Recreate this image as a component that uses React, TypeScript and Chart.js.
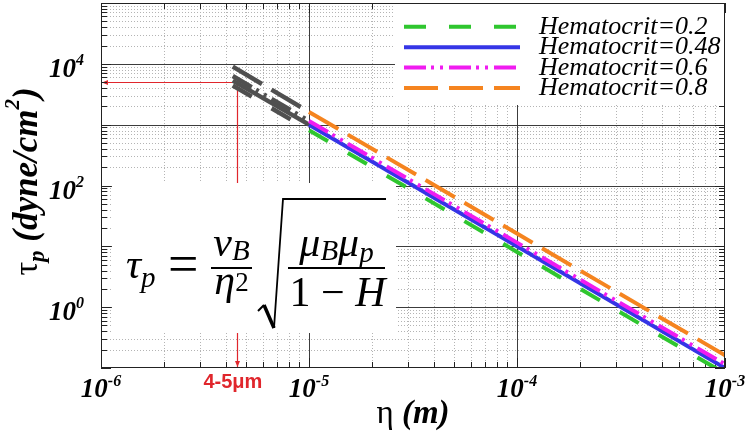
import React, { useEffect, useRef } from 'react';
import { Chart, registerables } from 'chart.js';

Chart.register(...registerables);

// ---------------- data ----------------
const etaMain = [1e-5, 1e-4, 1e-3];
const tauH02 = [810, 8.1, 0.081];
const tauH048 = [1000, 10, 0.1];
const tauH06 = [1150, 11.5, 0.115];
const tauH08 = [1620, 16.2, 0.162];

const etaSmall = [4.3e-6, 1e-5];
const tauSmallH02 = [4400, 810];
const tauSmallH048 = [5300, 1000];
const tauSmallH06 = [6300, 1150];
const tauSmallH08 = [9000, 1620];

const seriesLabels = ['Hematocrit=0.2', 'Hematocrit=0.48', 'Hematocrit=0.6', 'Hematocrit=0.8'];
const xLimits = [1e-6, 1e-3];
const yLimits = [1e-1, 1e5];
const xTickExponents = [-6, -5, -4, -3];
const yTickExponents = [0, 2, 4];
const markerEta = 4.5e-6;
const markerTau = 5000;
const markerLabel = '4-5μm';

// ---------------- styles ----------------
const COLORS = ['#2fc62f', '#3535e6', '#f01cf0', '#f5841f'];
const DASHES: number[][] = [[22, 23], [], [22, 5, 3, 6, 3, 6], [34, 11]];
const GRAY = '#505050';
const SERIF = '"Liberation Serif", "Times New Roman", serif';
const RED = '#e0262c';

type Part = { t: string; font: string; dy?: number; dx?: number };

function runWidth(ctx: CanvasRenderingContext2D, parts: Part[]) {
  let w = 0;
  for (const p of parts) {
    ctx.font = p.font;
    w += ctx.measureText(p.t).width + (p.dx || 0);
  }
  return w;
}

function drawRun(ctx: CanvasRenderingContext2D, parts: Part[], x: number, baseline: number, align: 'left' | 'center' | 'right') {
  const w = runWidth(ctx, parts);
  let cx = align === 'left' ? x : align === 'center' ? x - w / 2 : x - w;
  ctx.textAlign = 'left';
  ctx.textBaseline = 'alphabetic';
  for (const p of parts) {
    ctx.font = p.font;
    ctx.fillText(p.t, cx, baseline + (p.dy || 0));
    cx += ctx.measureText(p.t).width + (p.dx || 0);
  }
}

function logValues(min: number, max: number) {
  const out: { v: number; major: boolean }[] = [];
  const e0 = Math.round(Math.log10(min));
  const e1 = Math.round(Math.log10(max));
  for (let e = e0; e < e1; e++) {
    for (let k = 1; k < 10; k++) out.push({ v: k * Math.pow(10, e), major: k === 1 });
  }
  out.push({ v: Math.pow(10, e1), major: true });
  return out;
}

const decorPlugin = {
  id: 'decor',
  beforeDatasetsDraw(chart: any) {
    const { ctx, chartArea: a, scales } = chart;
    const xs = scales.x;
    const ys = scales.y;
    const xVals = logValues(xLimits[0], xLimits[1]);
    const yVals = logValues(yLimits[0], yLimits[1]);
    ctx.save();
    ctx.lineWidth = 1;
    // minor grid
    ctx.strokeStyle = '#b4b4b4';
    ctx.setLineDash([1, 2]);
    ctx.beginPath();
    for (const t of xVals) {
      if (t.major) continue;
      const px = Math.round(xs.getPixelForValue(t.v)) + 0.5;
      ctx.moveTo(px, a.top);
      ctx.lineTo(px, a.bottom);
    }
    for (const t of yVals) {
      if (t.major) continue;
      const py = Math.round(ys.getPixelForValue(t.v)) + 0.5;
      ctx.moveTo(a.left, py);
      ctx.lineTo(a.right, py);
    }
    ctx.stroke();
    // major grid
    ctx.setLineDash([]);
    ctx.strokeStyle = '#3c3c3c';
    ctx.beginPath();
    for (const t of xVals) {
      if (!t.major) continue;
      const px = Math.round(xs.getPixelForValue(t.v)) + 0.5;
      if (px < a.left + 2 || px > a.right - 2) continue;
      ctx.moveTo(px, a.top);
      ctx.lineTo(px, a.bottom);
    }
    for (const t of yVals) {
      if (!t.major) continue;
      const py = Math.round(ys.getPixelForValue(t.v)) + 0.5;
      if (py < a.top + 2 || py > a.bottom - 2) continue;
      ctx.moveTo(a.left, py);
      ctx.lineTo(a.right, py);
    }
    ctx.stroke();

    // red marker lines
    const mx = Math.round(xs.getPixelForValue(markerEta)) + 0.5;
    const my = Math.round(ys.getPixelForValue(markerTau)) + 0.5;
    ctx.strokeStyle = RED;
    ctx.fillStyle = RED;
    ctx.lineWidth = 1.2;
    ctx.beginPath();
    ctx.moveTo(a.left + 1, my);
    ctx.lineTo(mx, my);
    ctx.lineTo(mx, a.bottom - 1);
    ctx.stroke();
    ctx.beginPath();
    ctx.moveTo(a.left + 1, my);
    ctx.lineTo(a.left + 7, my - 2.5);
    ctx.lineTo(a.left + 7, my + 2.5);
    ctx.closePath();
    ctx.fill();
    ctx.beginPath();
    ctx.moveTo(mx, a.bottom - 1);
    ctx.lineTo(mx - 2.5, a.bottom - 7);
    ctx.lineTo(mx + 2.5, a.bottom - 7);
    ctx.closePath();
    ctx.fill();

    // axis ticks (inward)
    ctx.strokeStyle = '#222';
    ctx.lineWidth = 1;
    ctx.beginPath();
    for (const t of yVals) {
      const py = Math.round(ys.getPixelForValue(t.v)) + 0.5;
      const len = t.major ? 10 : 6;
      ctx.moveTo(a.left, py);
      ctx.lineTo(a.left + len, py);
      ctx.moveTo(a.right, py);
      ctx.lineTo(a.right - len, py);
    }
    for (const t of xVals) {
      const px = Math.round(xs.getPixelForValue(t.v)) + 0.5;
      const len = t.major ? 10 : 6;
      ctx.moveTo(px, a.bottom);
      ctx.lineTo(px, a.bottom - len);
      ctx.moveTo(px, a.top);
      ctx.lineTo(px, a.top + len);
    }
    ctx.stroke();

    // white boxes: formula and legend
    ctx.fillStyle = '#ffffff';
    ctx.fillRect(a.left + 11, a.top + 180, 284, 150);
    ctx.fillRect(a.left + 294, a.top + 1, a.right - a.left - 294 - 1, 101);
    ctx.restore();
  },
  afterDatasetsDraw(chart: any) {
    const { ctx, chartArea: a, scales } = chart;
    const xs = scales.x;
    const ys = scales.y;
    ctx.save();
    // border
    ctx.strokeStyle = '#222';
    ctx.lineWidth = 1;
    ctx.strokeRect(a.left + 0.5, a.top + 0.5, a.right - a.left - 1, a.bottom - a.top - 1);

    // legend
    const dsets = chart.data.datasets.slice(4);
    for (let i = 0; i < dsets.length; i++) {
      const ly = a.top + 23.7 + i * 20.45;
      ctx.strokeStyle = dsets[i].borderColor;
      ctx.lineWidth = 4;
      ctx.setLineDash(dsets[i].borderDash || []);
      ctx.beginPath();
      ctx.moveTo(a.left + 303, ly);
      ctx.lineTo(a.left + 419, ly);
      ctx.stroke();
      ctx.setLineDash([]);
      ctx.fillStyle = '#000';
      drawRun(ctx, [{ t: dsets[i].label, font: `italic 26px ${SERIF}` }], a.left + 438, ly + 7, 'left');
    }

    // formula
    const fx = a.left + 11;
    const fy = a.top + 180;
    ctx.fillStyle = '#000';
    const it40 = `italic 42px ${SERIF}`;
    const it28 = `italic 29px ${SERIF}`;
    const up40 = `42px ${SERIF}`;
    drawRun(ctx, [{ t: 'τ', font: it40 }, { t: 'p', font: it28, dy: 9 }], fx + 14, fy + 95, 'left');
    drawRun(ctx, [{ t: '=', font: `54px ${SERIF}` }], fx + 56, fy + 99, 'left');
    drawRun(ctx, [{ t: 'ν', font: it40 }, { t: 'B', font: it28, dy: 4 }], fx + 119.5, fy + 73, 'center');
    ctx.fillRect(fx + 99, fy + 84, 41, 2);
    drawRun(ctx, [{ t: 'η', font: it40 }, { t: '2', font: `27px ${SERIF}`, dy: -3 }], fx + 119.5, fy + 111, 'center');
    // radical
    ctx.strokeStyle = '#000';
    ctx.lineJoin = 'miter';
    ctx.lineWidth = 2;
    ctx.beginPath();
    ctx.moveTo(fx + 146, fy + 128);
    ctx.lineTo(fx + 152, fy + 122);
    ctx.stroke();
    ctx.lineWidth = 3.5;
    ctx.beginPath();
    ctx.moveTo(fx + 152, fy + 122);
    ctx.lineTo(fx + 162, fy + 145);
    ctx.stroke();
    ctx.lineWidth = 1.8;
    ctx.beginPath();
    ctx.moveTo(fx + 162, fy + 145);
    ctx.lineTo(fx + 171, fy + 16);
    ctx.lineTo(fx + 274, fy + 16);
    ctx.stroke();
    drawRun(ctx, [
      { t: 'μ', font: it40 },
      { t: 'B', font: it28, dy: 4 },
      { t: 'μ', font: it40 },
      { t: 'p', font: it28, dy: 6 },
    ], fx + 224.5, fy + 73, 'center');
    ctx.fillRect(fx + 176, fy + 84, 97, 2);
    drawRun(ctx, [
      { t: '1', font: up40 },
      { t: ' − ', font: up40 },
      { t: 'H', font: it40 },
    ], fx + 225.5, fy + 123, 'center');

    // tick labels
    ctx.fillStyle = '#000';
    const lab = `bold italic 27px ${SERIF}`;
    const sup = `bold italic 16px ${SERIF}`;
    for (const e of xTickExponents) {
      const px = xs.getPixelForValue(Math.pow(10, e));
      drawRun(ctx, [{ t: '10', font: lab }, { t: String(e), font: sup, dy: -11 }], px, a.bottom + 29, 'center');
    }
    for (const e of yTickExponents) {
      const py = ys.getPixelForValue(Math.pow(10, e));
      drawRun(ctx, [{ t: '10', font: lab }, { t: String(e), font: sup, dy: -12 }], a.left - 17, py + 13, 'right');
    }

    // axis titles
    drawRun(ctx, [
      { t: 'η ', font: `33px ${SERIF}` },
      { t: '(m)', font: `bold italic 33px ${SERIF}` },
    ], (a.left + a.right) / 2, a.bottom + 55, 'center');

    ctx.save();
    ctx.translate(37, (a.top + a.bottom) / 2 - 4);
    ctx.rotate(-Math.PI / 2);
    drawRun(ctx, [
      { t: 'τ', font: `34px ${SERIF}` },
      { t: 'p', font: `bold italic 23px ${SERIF}`, dy: 7 },
      { t: ' (dyne/cm', font: `bold italic 35px ${SERIF}` },
      { t: '2', font: `bold italic 21px ${SERIF}`, dy: -18 },
      { t: ')', font: `bold italic 35px ${SERIF}` },
    ], 0, 0, 'center');
    ctx.restore();

    // marker label
    const mx = xs.getPixelForValue(markerEta);
    ctx.fillStyle = RED;
    drawRun(ctx, [{ t: markerLabel, font: `bold 20px "Liberation Sans", Arial, sans-serif` }], mx - 4, a.bottom + 20, 'center');
    ctx.restore();
  },
};

function pts(xs: number[], ys: number[]) {
  return xs.map((x, i) => ({ x, y: ys[i] }));
}

export default function App() {
  const ref = useRef<HTMLCanvasElement>(null);
  useEffect(() => {
    if (!ref.current) return;
    const smallSets = [tauSmallH02, tauSmallH048, tauSmallH06, tauSmallH08];
    const mainSets = [tauH02, tauH048, tauH06, tauH08];
    const datasets: any[] = [];
    smallSets.forEach((s, i) => {
      datasets.push({
        label: seriesLabels[i] + ' (small)',
        data: pts(etaSmall, s),
        borderColor: GRAY,
        borderWidth: 4.5,
        borderDash: DASHES[i],
        pointRadius: 0,
        fill: false,
        tension: 0,
        order: 10 + i,
      });
    });
    mainSets.forEach((s, i) => {
      datasets.push({
        label: seriesLabels[i],
        data: pts(etaMain, s),
        borderColor: COLORS[i],
        borderWidth: 4,
        borderDash: DASHES[i],
        pointRadius: 0,
        fill: false,
        tension: 0,
        order: 4 - i,
      });
    });
    const chart = new Chart(ref.current, {
      type: 'line',
      data: { datasets },
      options: {
        animation: false,
        responsive: false,
        devicePixelRatio: 1,
        layout: { padding: { left: 101, right: 23, top: 3, bottom: 67 } },
        plugins: { legend: { display: false }, tooltip: { enabled: false } },
        scales: {
          x: {
            type: 'logarithmic',
            min: xLimits[0],
            max: xLimits[1],
            grid: { display: false, drawTicks: false },
            ticks: { display: false },
            border: { display: false },
          },
          y: {
            type: 'logarithmic',
            min: yLimits[0],
            max: yLimits[1],
            grid: { display: false, drawTicks: false },
            ticks: { display: false },
            border: { display: false },
          },
        },
      },
      plugins: [decorPlugin],
    } as any);
    return () => chart.destroy();
  }, []);
  return (
    <div style={{ position: 'absolute', left: 0, top: 0, width: 748, height: 435, background: '#fff' }}>
      <canvas ref={ref} width={748} height={435} />
    </div>
  );
}
